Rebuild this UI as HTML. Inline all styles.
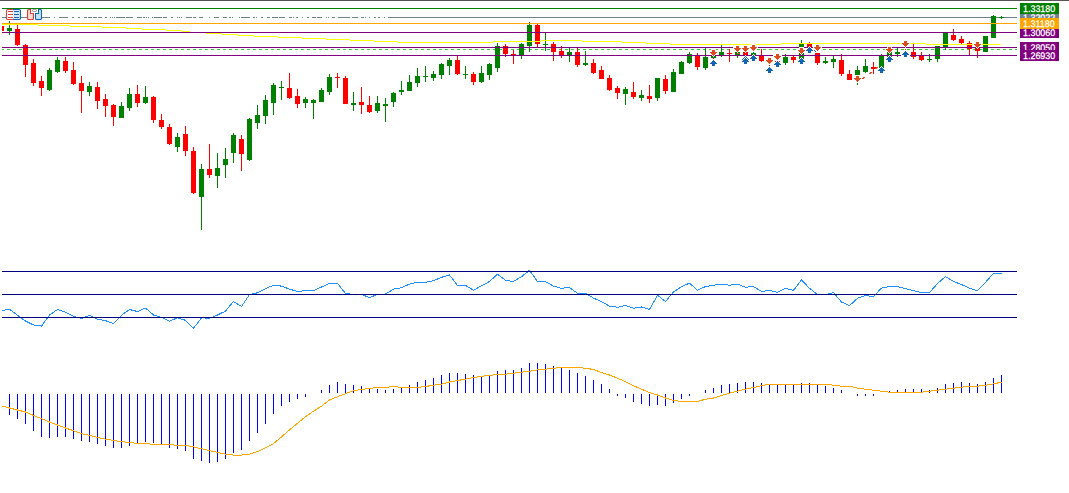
<!DOCTYPE html>
<html><head><meta charset="utf-8"><title>Chart</title>
<style>
html,body{margin:0;padding:0;background:#fff;}
body{width:1069px;height:493px;position:relative;overflow:hidden;font-family:"Liberation Sans",sans-serif;}
#topb{position:absolute;left:0;top:0;width:1069px;height:1px;background:#555;}
svg{position:absolute;left:0;top:0;}
.pl{position:absolute;left:1020px;width:39px;height:11px;line-height:13px;font-size:9.6px;color:#fff;padding-left:3px;box-sizing:border-box;white-space:nowrap;overflow:hidden;text-rendering:geometricPrecision;}
.pl span{display:inline-block;transform:scale(0.93,1);transform-origin:0 80%;-webkit-text-stroke:0.25px #fff;}
</style></head><body>
<svg width="1069" height="493" viewBox="0 0 1069 493" shape-rendering="crispEdges">
<rect x="388" y="17" width="629" height="1" fill="#708090"/>
<rect x="2" y="17" width="4" height="1" fill="#708090"/>
<rect x="21" y="17" width="6" height="1" fill="#708090"/>
<rect x="42" y="17" width="8" height="1" fill="#708090"/>
<rect x="54" y="17" width="1" height="1" fill="#708090"/>
<rect x="59" y="17" width="9" height="1" fill="#708090"/>
<rect x="72" y="17" width="2" height="1" fill="#708090"/>
<rect x="78" y="17" width="2" height="1" fill="#708090"/>
<rect x="84" y="17" width="3" height="1" fill="#708090"/>
<rect x="88" y="17" width="4" height="1" fill="#708090"/>
<rect x="93" y="17" width="4" height="1" fill="#708090"/>
<rect x="98" y="17" width="4" height="1" fill="#708090"/>
<rect x="105" y="17" width="2" height="1" fill="#708090"/>
<rect x="110" y="17" width="1" height="1" fill="#708090"/>
<rect x="112" y="17" width="1" height="1" fill="#708090"/>
<rect x="114" y="17" width="1" height="1" fill="#708090"/>
<rect x="116" y="17" width="2" height="1" fill="#708090"/>
<rect x="118" y="17" width="7" height="1" fill="#708090"/>
<rect x="126" y="17" width="7" height="1" fill="#708090"/>
<rect x="126" y="17" width="7" height="1" fill="#708090"/>
<rect x="137" y="17" width="5" height="1" fill="#708090"/>
<rect x="143" y="17" width="2" height="1" fill="#708090"/>
<rect x="146" y="17" width="1" height="1" fill="#708090"/>
<rect x="148" y="17" width="1" height="1" fill="#708090"/>
<rect x="152" y="17" width="1" height="1" fill="#708090"/>
<rect x="154" y="17" width="8" height="1" fill="#708090"/>
<rect x="163" y="17" width="4" height="1" fill="#708090"/>
<rect x="171" y="17" width="2" height="1" fill="#708090"/>
<rect x="177" y="17" width="1" height="1" fill="#708090"/>
<rect x="179" y="17" width="1" height="1" fill="#708090"/>
<rect x="181" y="17" width="1" height="1" fill="#708090"/>
<rect x="186" y="17" width="6" height="1" fill="#708090"/>
<rect x="193" y="17" width="3" height="1" fill="#708090"/>
<rect x="199" y="17" width="4" height="1" fill="#708090"/>
<rect x="209" y="17" width="1" height="1" fill="#708090"/>
<rect x="214" y="17" width="5" height="1" fill="#708090"/>
<rect x="223" y="17" width="4" height="1" fill="#708090"/>
<rect x="229" y="17" width="2" height="1" fill="#708090"/>
<rect x="232" y="17" width="1" height="1" fill="#708090"/>
<rect x="239" y="17" width="1" height="1" fill="#708090"/>
<rect x="241" y="17" width="9" height="1" fill="#708090"/>
<rect x="253" y="17" width="2" height="1" fill="#708090"/>
<rect x="256" y="17" width="1" height="1" fill="#708090"/>
<rect x="261" y="17" width="2" height="1" fill="#708090"/>
<rect x="267" y="17" width="1" height="1" fill="#708090"/>
<rect x="268" y="17" width="2" height="1" fill="#708090"/>
<rect x="272" y="17" width="6" height="1" fill="#708090"/>
<rect x="279" y="17" width="6" height="1" fill="#708090"/>
<rect x="289" y="17" width="3" height="1" fill="#708090"/>
<rect x="293" y="17" width="1" height="1" fill="#708090"/>
<rect x="297" y="17" width="1" height="1" fill="#708090"/>
<rect x="296" y="17" width="1" height="1" fill="#708090"/>
<rect x="302" y="17" width="1" height="1" fill="#708090"/>
<rect x="307" y="17" width="2" height="1" fill="#708090"/>
<rect x="312" y="17" width="4" height="1" fill="#708090"/>
<rect x="317" y="17" width="5" height="1" fill="#708090"/>
<rect x="326" y="17" width="1" height="1" fill="#708090"/>
<rect x="328" y="17" width="1" height="1" fill="#708090"/>
<rect x="332" y="17" width="3" height="1" fill="#708090"/>
<rect x="338" y="17" width="3" height="1" fill="#708090"/>
<rect x="341" y="17" width="9" height="1" fill="#708090"/>
<rect x="352" y="17" width="6" height="1" fill="#708090"/>
<rect x="361" y="17" width="3" height="1" fill="#708090"/>
<rect x="365" y="17" width="1" height="1" fill="#708090"/>
<rect x="369" y="17" width="1" height="1" fill="#708090"/>
<rect x="374" y="17" width="2" height="1" fill="#708090"/>
<rect x="378" y="17" width="2" height="1" fill="#708090"/>
<rect x="384" y="17" width="1" height="1" fill="#708090"/>
<rect x="2" y="49" width="2" height="1" fill="#32cd32"/>
<rect x="7" y="49" width="3" height="1" fill="#32cd32"/>
<rect x="13" y="49" width="3" height="1" fill="#32cd32"/>
<rect x="19" y="49" width="3" height="1" fill="#32cd32"/>
<rect x="25" y="49" width="3" height="1" fill="#32cd32"/>
<rect x="31" y="49" width="3" height="1" fill="#32cd32"/>
<rect x="37" y="49" width="3" height="1" fill="#32cd32"/>
<rect x="43" y="49" width="3" height="1" fill="#32cd32"/>
<rect x="49" y="49" width="3" height="1" fill="#32cd32"/>
<rect x="55" y="49" width="3" height="1" fill="#32cd32"/>
<rect x="61" y="49" width="3" height="1" fill="#32cd32"/>
<rect x="67" y="49" width="3" height="1" fill="#32cd32"/>
<rect x="73" y="49" width="3" height="1" fill="#32cd32"/>
<rect x="79" y="49" width="3" height="1" fill="#32cd32"/>
<rect x="85" y="49" width="3" height="1" fill="#32cd32"/>
<rect x="91" y="49" width="3" height="1" fill="#32cd32"/>
<rect x="97" y="49" width="3" height="1" fill="#32cd32"/>
<rect x="103" y="49" width="3" height="1" fill="#32cd32"/>
<rect x="109" y="49" width="3" height="1" fill="#32cd32"/>
<rect x="115" y="49" width="3" height="1" fill="#32cd32"/>
<rect x="121" y="49" width="3" height="1" fill="#32cd32"/>
<rect x="127" y="49" width="3" height="1" fill="#32cd32"/>
<rect x="133" y="49" width="3" height="1" fill="#32cd32"/>
<rect x="139" y="49" width="3" height="1" fill="#32cd32"/>
<rect x="145" y="49" width="3" height="1" fill="#32cd32"/>
<rect x="151" y="49" width="3" height="1" fill="#32cd32"/>
<rect x="157" y="49" width="3" height="1" fill="#32cd32"/>
<rect x="163" y="49" width="3" height="1" fill="#32cd32"/>
<rect x="169" y="49" width="3" height="1" fill="#32cd32"/>
<rect x="175" y="49" width="3" height="1" fill="#32cd32"/>
<rect x="181" y="49" width="3" height="1" fill="#32cd32"/>
<rect x="187" y="49" width="3" height="1" fill="#32cd32"/>
<rect x="193" y="49" width="3" height="1" fill="#32cd32"/>
<rect x="199" y="49" width="3" height="1" fill="#32cd32"/>
<rect x="205" y="49" width="3" height="1" fill="#32cd32"/>
<rect x="211" y="49" width="3" height="1" fill="#32cd32"/>
<rect x="217" y="49" width="3" height="1" fill="#32cd32"/>
<rect x="223" y="49" width="3" height="1" fill="#32cd32"/>
<rect x="229" y="49" width="3" height="1" fill="#32cd32"/>
<rect x="235" y="49" width="3" height="1" fill="#32cd32"/>
<rect x="241" y="49" width="3" height="1" fill="#32cd32"/>
<rect x="247" y="49" width="3" height="1" fill="#32cd32"/>
<rect x="253" y="49" width="3" height="1" fill="#32cd32"/>
<rect x="259" y="49" width="3" height="1" fill="#32cd32"/>
<rect x="265" y="49" width="3" height="1" fill="#32cd32"/>
<rect x="271" y="49" width="3" height="1" fill="#32cd32"/>
<rect x="277" y="49" width="3" height="1" fill="#32cd32"/>
<rect x="283" y="49" width="3" height="1" fill="#32cd32"/>
<rect x="289" y="49" width="3" height="1" fill="#32cd32"/>
<rect x="295" y="49" width="3" height="1" fill="#32cd32"/>
<rect x="301" y="49" width="3" height="1" fill="#32cd32"/>
<rect x="307" y="49" width="3" height="1" fill="#32cd32"/>
<rect x="313" y="49" width="3" height="1" fill="#32cd32"/>
<rect x="319" y="49" width="3" height="1" fill="#32cd32"/>
<rect x="325" y="49" width="3" height="1" fill="#32cd32"/>
<rect x="331" y="49" width="3" height="1" fill="#32cd32"/>
<rect x="337" y="49" width="3" height="1" fill="#32cd32"/>
<rect x="343" y="49" width="3" height="1" fill="#32cd32"/>
<rect x="349" y="49" width="3" height="1" fill="#32cd32"/>
<rect x="355" y="49" width="3" height="1" fill="#32cd32"/>
<rect x="361" y="49" width="3" height="1" fill="#32cd32"/>
<rect x="367" y="49" width="3" height="1" fill="#32cd32"/>
<rect x="373" y="49" width="3" height="1" fill="#32cd32"/>
<rect x="379" y="49" width="3" height="1" fill="#32cd32"/>
<rect x="385" y="49" width="3" height="1" fill="#32cd32"/>
<rect x="391" y="49" width="3" height="1" fill="#32cd32"/>
<rect x="397" y="49" width="3" height="1" fill="#32cd32"/>
<rect x="403" y="49" width="3" height="1" fill="#32cd32"/>
<rect x="409" y="49" width="3" height="1" fill="#32cd32"/>
<rect x="415" y="49" width="3" height="1" fill="#32cd32"/>
<rect x="421" y="49" width="3" height="1" fill="#32cd32"/>
<rect x="427" y="49" width="3" height="1" fill="#32cd32"/>
<rect x="433" y="49" width="3" height="1" fill="#32cd32"/>
<rect x="439" y="49" width="3" height="1" fill="#32cd32"/>
<rect x="445" y="49" width="3" height="1" fill="#32cd32"/>
<rect x="451" y="49" width="3" height="1" fill="#32cd32"/>
<rect x="457" y="49" width="3" height="1" fill="#32cd32"/>
<rect x="463" y="49" width="3" height="1" fill="#32cd32"/>
<rect x="469" y="49" width="3" height="1" fill="#32cd32"/>
<rect x="475" y="49" width="3" height="1" fill="#32cd32"/>
<rect x="481" y="49" width="3" height="1" fill="#32cd32"/>
<rect x="487" y="49" width="3" height="1" fill="#32cd32"/>
<rect x="493" y="49" width="3" height="1" fill="#32cd32"/>
<rect x="499" y="49" width="3" height="1" fill="#32cd32"/>
<rect x="505" y="49" width="3" height="1" fill="#32cd32"/>
<rect x="511" y="49" width="3" height="1" fill="#32cd32"/>
<rect x="517" y="49" width="3" height="1" fill="#32cd32"/>
<rect x="523" y="49" width="3" height="1" fill="#32cd32"/>
<rect x="529" y="49" width="3" height="1" fill="#32cd32"/>
<rect x="535" y="49" width="3" height="1" fill="#32cd32"/>
<rect x="541" y="49" width="3" height="1" fill="#32cd32"/>
<rect x="547" y="49" width="3" height="1" fill="#32cd32"/>
<rect x="553" y="49" width="3" height="1" fill="#32cd32"/>
<rect x="559" y="49" width="3" height="1" fill="#32cd32"/>
<rect x="565" y="49" width="3" height="1" fill="#32cd32"/>
<rect x="571" y="49" width="3" height="1" fill="#32cd32"/>
<rect x="577" y="49" width="3" height="1" fill="#32cd32"/>
<rect x="583" y="49" width="3" height="1" fill="#32cd32"/>
<rect x="589" y="49" width="3" height="1" fill="#32cd32"/>
<rect x="595" y="49" width="3" height="1" fill="#32cd32"/>
<rect x="601" y="49" width="3" height="1" fill="#32cd32"/>
<rect x="607" y="49" width="3" height="1" fill="#32cd32"/>
<rect x="613" y="49" width="3" height="1" fill="#32cd32"/>
<rect x="619" y="49" width="3" height="1" fill="#32cd32"/>
<rect x="625" y="49" width="3" height="1" fill="#32cd32"/>
<rect x="631" y="49" width="3" height="1" fill="#32cd32"/>
<rect x="637" y="49" width="3" height="1" fill="#32cd32"/>
<rect x="643" y="49" width="3" height="1" fill="#32cd32"/>
<rect x="649" y="49" width="3" height="1" fill="#32cd32"/>
<rect x="655" y="49" width="3" height="1" fill="#32cd32"/>
<rect x="661" y="49" width="3" height="1" fill="#32cd32"/>
<rect x="667" y="49" width="3" height="1" fill="#32cd32"/>
<rect x="673" y="49" width="3" height="1" fill="#32cd32"/>
<rect x="679" y="49" width="3" height="1" fill="#32cd32"/>
<rect x="685" y="49" width="3" height="1" fill="#32cd32"/>
<rect x="691" y="49" width="3" height="1" fill="#32cd32"/>
<rect x="697" y="49" width="3" height="1" fill="#32cd32"/>
<rect x="703" y="49" width="3" height="1" fill="#32cd32"/>
<rect x="709" y="49" width="3" height="1" fill="#32cd32"/>
<rect x="715" y="49" width="3" height="1" fill="#32cd32"/>
<rect x="721" y="49" width="3" height="1" fill="#32cd32"/>
<rect x="727" y="49" width="3" height="1" fill="#32cd32"/>
<rect x="733" y="49" width="3" height="1" fill="#32cd32"/>
<rect x="739" y="49" width="3" height="1" fill="#32cd32"/>
<rect x="745" y="49" width="3" height="1" fill="#32cd32"/>
<rect x="751" y="49" width="3" height="1" fill="#32cd32"/>
<rect x="757" y="49" width="3" height="1" fill="#32cd32"/>
<rect x="763" y="49" width="3" height="1" fill="#32cd32"/>
<rect x="769" y="49" width="3" height="1" fill="#32cd32"/>
<rect x="775" y="49" width="3" height="1" fill="#32cd32"/>
<rect x="781" y="49" width="3" height="1" fill="#32cd32"/>
<rect x="787" y="49" width="3" height="1" fill="#32cd32"/>
<rect x="793" y="49" width="3" height="1" fill="#32cd32"/>
<rect x="799" y="49" width="3" height="1" fill="#32cd32"/>
<rect x="805" y="49" width="3" height="1" fill="#32cd32"/>
<rect x="811" y="49" width="3" height="1" fill="#32cd32"/>
<rect x="817" y="49" width="3" height="1" fill="#32cd32"/>
<rect x="823" y="49" width="3" height="1" fill="#32cd32"/>
<rect x="829" y="49" width="3" height="1" fill="#32cd32"/>
<rect x="835" y="49" width="3" height="1" fill="#32cd32"/>
<rect x="841" y="49" width="3" height="1" fill="#32cd32"/>
<rect x="847" y="49" width="3" height="1" fill="#32cd32"/>
<rect x="853" y="49" width="3" height="1" fill="#32cd32"/>
<rect x="859" y="49" width="3" height="1" fill="#32cd32"/>
<rect x="865" y="49" width="3" height="1" fill="#32cd32"/>
<rect x="871" y="49" width="3" height="1" fill="#32cd32"/>
<rect x="877" y="49" width="3" height="1" fill="#32cd32"/>
<rect x="883" y="49" width="3" height="1" fill="#32cd32"/>
<rect x="889" y="49" width="3" height="1" fill="#32cd32"/>
<rect x="895" y="49" width="3" height="1" fill="#32cd32"/>
<rect x="901" y="49" width="3" height="1" fill="#32cd32"/>
<rect x="907" y="49" width="3" height="1" fill="#32cd32"/>
<rect x="913" y="49" width="3" height="1" fill="#32cd32"/>
<rect x="919" y="49" width="3" height="1" fill="#32cd32"/>
<rect x="925" y="49" width="3" height="1" fill="#32cd32"/>
<rect x="931" y="49" width="3" height="1" fill="#32cd32"/>
<rect x="937" y="49" width="3" height="1" fill="#32cd32"/>
<rect x="943" y="49" width="3" height="1" fill="#32cd32"/>
<rect x="949" y="49" width="3" height="1" fill="#32cd32"/>
<rect x="955" y="49" width="3" height="1" fill="#32cd32"/>
<rect x="961" y="49" width="3" height="1" fill="#32cd32"/>
<rect x="967" y="49" width="3" height="1" fill="#32cd32"/>
<rect x="973" y="49" width="3" height="1" fill="#32cd32"/>
<rect x="979" y="49" width="3" height="1" fill="#32cd32"/>
<rect x="985" y="49" width="3" height="1" fill="#32cd32"/>
<rect x="991" y="49" width="3" height="1" fill="#32cd32"/>
<rect x="997" y="49" width="3" height="1" fill="#32cd32"/>
<rect x="1003" y="49" width="3" height="1" fill="#32cd32"/>
<rect x="1009" y="49" width="3" height="1" fill="#32cd32"/>
<rect x="1015" y="49" width="2" height="1" fill="#32cd32"/>
<rect x="2" y="26" width="2" height="5" fill="#ff0000"/>
<rect x="9" y="21" width="1" height="14" fill="#008000"/>
<rect x="7" y="28" width="5" height="3" fill="#008000"/>
<rect x="17" y="25" width="1" height="21" fill="#ff0000"/>
<rect x="15" y="29" width="5" height="16" fill="#ff0000"/>
<rect x="25" y="44" width="1" height="33" fill="#ff0000"/>
<rect x="23" y="45" width="5" height="20" fill="#ff0000"/>
<rect x="33" y="59" width="1" height="27" fill="#ff0000"/>
<rect x="31" y="63" width="5" height="20" fill="#ff0000"/>
<rect x="41" y="76" width="1" height="20" fill="#ff0000"/>
<rect x="39" y="81" width="5" height="7" fill="#ff0000"/>
<rect x="49" y="68" width="1" height="23" fill="#008000"/>
<rect x="47" y="70" width="5" height="20" fill="#008000"/>
<rect x="57" y="57" width="1" height="16" fill="#008000"/>
<rect x="55" y="60" width="5" height="12" fill="#008000"/>
<rect x="65" y="57" width="1" height="16" fill="#ff0000"/>
<rect x="63" y="61" width="5" height="10" fill="#ff0000"/>
<rect x="73" y="62" width="1" height="23" fill="#ff0000"/>
<rect x="71" y="70" width="5" height="14" fill="#ff0000"/>
<rect x="81" y="76" width="1" height="37" fill="#ff0000"/>
<rect x="79" y="83" width="5" height="8" fill="#ff0000"/>
<rect x="89" y="82" width="1" height="14" fill="#008000"/>
<rect x="87" y="86" width="5" height="6" fill="#008000"/>
<rect x="97" y="82" width="1" height="27" fill="#ff0000"/>
<rect x="95" y="87" width="5" height="14" fill="#ff0000"/>
<rect x="105" y="94" width="1" height="23" fill="#ff0000"/>
<rect x="103" y="99" width="5" height="7" fill="#ff0000"/>
<rect x="113" y="104" width="1" height="22" fill="#ff0000"/>
<rect x="111" y="105" width="5" height="12" fill="#ff0000"/>
<rect x="121" y="102" width="1" height="16" fill="#008000"/>
<rect x="119" y="106" width="5" height="12" fill="#008000"/>
<rect x="129" y="88" width="1" height="23" fill="#008000"/>
<rect x="127" y="94" width="5" height="14" fill="#008000"/>
<rect x="137" y="85" width="1" height="22" fill="#ff0000"/>
<rect x="135" y="94" width="5" height="9" fill="#ff0000"/>
<rect x="145" y="86" width="1" height="18" fill="#008000"/>
<rect x="143" y="97" width="5" height="6" fill="#008000"/>
<rect x="153" y="96" width="1" height="27" fill="#ff0000"/>
<rect x="151" y="97" width="5" height="23" fill="#ff0000"/>
<rect x="161" y="114" width="1" height="15" fill="#ff0000"/>
<rect x="159" y="120" width="5" height="7" fill="#ff0000"/>
<rect x="169" y="124" width="1" height="21" fill="#ff0000"/>
<rect x="167" y="127" width="5" height="17" fill="#ff0000"/>
<rect x="177" y="133" width="1" height="19" fill="#008000"/>
<rect x="175" y="137" width="5" height="10" fill="#008000"/>
<rect x="185" y="126" width="1" height="30" fill="#ff0000"/>
<rect x="183" y="134" width="5" height="17" fill="#ff0000"/>
<rect x="193" y="147" width="1" height="47" fill="#ff0000"/>
<rect x="191" y="151" width="5" height="42" fill="#ff0000"/>
<rect x="201" y="164" width="1" height="66" fill="#008000"/>
<rect x="199" y="169" width="5" height="28" fill="#008000"/>
<rect x="209" y="144" width="1" height="34" fill="#ff0000"/>
<rect x="207" y="169" width="5" height="6" fill="#ff0000"/>
<rect x="217" y="153" width="1" height="35" fill="#008000"/>
<rect x="215" y="168" width="5" height="8" fill="#008000"/>
<rect x="225" y="148" width="1" height="30" fill="#008000"/>
<rect x="223" y="159" width="5" height="6" fill="#008000"/>
<rect x="233" y="133" width="1" height="30" fill="#008000"/>
<rect x="231" y="135" width="5" height="18" fill="#008000"/>
<rect x="241" y="135" width="1" height="36" fill="#ff0000"/>
<rect x="239" y="139" width="5" height="15" fill="#ff0000"/>
<rect x="249" y="118" width="1" height="43" fill="#008000"/>
<rect x="247" y="119" width="5" height="41" fill="#008000"/>
<rect x="257" y="105" width="1" height="24" fill="#008000"/>
<rect x="255" y="115" width="5" height="8" fill="#008000"/>
<rect x="265" y="95" width="1" height="29" fill="#008000"/>
<rect x="263" y="100" width="5" height="16" fill="#008000"/>
<rect x="273" y="83" width="1" height="32" fill="#008000"/>
<rect x="271" y="85" width="5" height="18" fill="#008000"/>
<rect x="281" y="81" width="1" height="19" fill="#008000"/>
<rect x="279" y="87" width="5" height="1" fill="#008000"/>
<rect x="289" y="73" width="1" height="26" fill="#ff0000"/>
<rect x="287" y="88" width="5" height="10" fill="#ff0000"/>
<rect x="297" y="89" width="1" height="19" fill="#ff0000"/>
<rect x="295" y="96" width="5" height="8" fill="#ff0000"/>
<rect x="305" y="97" width="1" height="11" fill="#008000"/>
<rect x="303" y="99" width="5" height="4" fill="#008000"/>
<rect x="313" y="99" width="1" height="20" fill="#008000"/>
<rect x="311" y="100" width="5" height="3" fill="#008000"/>
<rect x="321" y="88" width="1" height="14" fill="#008000"/>
<rect x="319" y="90" width="5" height="12" fill="#008000"/>
<rect x="329" y="74" width="1" height="21" fill="#008000"/>
<rect x="327" y="77" width="5" height="15" fill="#008000"/>
<rect x="337" y="73" width="1" height="15" fill="#ff0000"/>
<rect x="335" y="77" width="5" height="1" fill="#ff0000"/>
<rect x="345" y="76" width="1" height="28" fill="#ff0000"/>
<rect x="343" y="78" width="5" height="26" fill="#ff0000"/>
<rect x="353" y="92" width="1" height="19" fill="#008000"/>
<rect x="351" y="103" width="5" height="2" fill="#008000"/>
<rect x="361" y="87" width="1" height="27" fill="#ff0000"/>
<rect x="359" y="102" width="5" height="3" fill="#ff0000"/>
<rect x="369" y="96" width="1" height="17" fill="#ff0000"/>
<rect x="367" y="105" width="5" height="7" fill="#ff0000"/>
<rect x="377" y="96" width="1" height="17" fill="#008000"/>
<rect x="375" y="103" width="5" height="8" fill="#008000"/>
<rect x="385" y="98" width="1" height="24" fill="#008000"/>
<rect x="383" y="104" width="5" height="2" fill="#008000"/>
<rect x="393" y="92" width="1" height="15" fill="#008000"/>
<rect x="391" y="93" width="5" height="9" fill="#008000"/>
<rect x="401" y="81" width="1" height="14" fill="#008000"/>
<rect x="399" y="90" width="5" height="2" fill="#008000"/>
<rect x="409" y="75" width="1" height="16" fill="#008000"/>
<rect x="407" y="82" width="5" height="9" fill="#008000"/>
<rect x="417" y="68" width="1" height="19" fill="#008000"/>
<rect x="415" y="76" width="5" height="7" fill="#008000"/>
<rect x="425" y="66" width="1" height="16" fill="#008000"/>
<rect x="423" y="76" width="5" height="1" fill="#008000"/>
<rect x="433" y="71" width="1" height="10" fill="#008000"/>
<rect x="431" y="74" width="5" height="4" fill="#008000"/>
<rect x="441" y="63" width="1" height="16" fill="#008000"/>
<rect x="439" y="64" width="5" height="11" fill="#008000"/>
<rect x="449" y="58" width="1" height="17" fill="#008000"/>
<rect x="447" y="60" width="5" height="6" fill="#008000"/>
<rect x="457" y="56" width="1" height="19" fill="#ff0000"/>
<rect x="455" y="60" width="5" height="14" fill="#ff0000"/>
<rect x="465" y="66" width="1" height="13" fill="#008000"/>
<rect x="463" y="74" width="5" height="1" fill="#008000"/>
<rect x="473" y="72" width="1" height="13" fill="#ff0000"/>
<rect x="471" y="74" width="5" height="8" fill="#ff0000"/>
<rect x="481" y="66" width="1" height="17" fill="#008000"/>
<rect x="479" y="73" width="5" height="9" fill="#008000"/>
<rect x="489" y="63" width="1" height="17" fill="#008000"/>
<rect x="487" y="64" width="5" height="11" fill="#008000"/>
<rect x="497" y="43" width="1" height="29" fill="#008000"/>
<rect x="495" y="46" width="5" height="22" fill="#008000"/>
<rect x="505" y="44" width="1" height="13" fill="#ff0000"/>
<rect x="503" y="46" width="5" height="8" fill="#ff0000"/>
<rect x="513" y="50" width="1" height="14" fill="#ff0000"/>
<rect x="511" y="54" width="5" height="2" fill="#ff0000"/>
<rect x="521" y="43" width="1" height="16" fill="#008000"/>
<rect x="519" y="44" width="5" height="12" fill="#008000"/>
<rect x="529" y="22" width="1" height="30" fill="#008000"/>
<rect x="527" y="25" width="5" height="21" fill="#008000"/>
<rect x="537" y="24" width="1" height="24" fill="#ff0000"/>
<rect x="535" y="25" width="5" height="19" fill="#ff0000"/>
<rect x="545" y="33" width="1" height="18" fill="#008000"/>
<rect x="543" y="44" width="5" height="1" fill="#008000"/>
<rect x="553" y="42" width="1" height="19" fill="#ff0000"/>
<rect x="551" y="44" width="5" height="8" fill="#ff0000"/>
<rect x="561" y="46" width="1" height="12" fill="#ff0000"/>
<rect x="559" y="51" width="5" height="5" fill="#ff0000"/>
<rect x="569" y="48" width="1" height="14" fill="#008000"/>
<rect x="567" y="52" width="5" height="4" fill="#008000"/>
<rect x="577" y="48" width="1" height="19" fill="#ff0000"/>
<rect x="575" y="52" width="5" height="13" fill="#ff0000"/>
<rect x="585" y="51" width="1" height="15" fill="#008000"/>
<rect x="583" y="63" width="5" height="2" fill="#008000"/>
<rect x="593" y="59" width="1" height="15" fill="#ff0000"/>
<rect x="591" y="63" width="5" height="10" fill="#ff0000"/>
<rect x="601" y="66" width="1" height="13" fill="#ff0000"/>
<rect x="599" y="70" width="5" height="9" fill="#ff0000"/>
<rect x="609" y="75" width="1" height="16" fill="#ff0000"/>
<rect x="607" y="78" width="5" height="12" fill="#ff0000"/>
<rect x="617" y="86" width="1" height="13" fill="#ff0000"/>
<rect x="615" y="88" width="5" height="5" fill="#ff0000"/>
<rect x="625" y="87" width="1" height="18" fill="#008000"/>
<rect x="623" y="89" width="5" height="5" fill="#008000"/>
<rect x="633" y="82" width="1" height="17" fill="#ff0000"/>
<rect x="631" y="92" width="5" height="5" fill="#ff0000"/>
<rect x="641" y="90" width="1" height="11" fill="#008000"/>
<rect x="639" y="95" width="5" height="3" fill="#008000"/>
<rect x="649" y="85" width="1" height="18" fill="#ff0000"/>
<rect x="647" y="96" width="5" height="3" fill="#ff0000"/>
<rect x="657" y="78" width="1" height="23" fill="#008000"/>
<rect x="655" y="78" width="5" height="20" fill="#008000"/>
<rect x="665" y="75" width="1" height="19" fill="#ff0000"/>
<rect x="663" y="79" width="5" height="12" fill="#ff0000"/>
<rect x="673" y="69" width="1" height="23" fill="#008000"/>
<rect x="671" y="72" width="5" height="20" fill="#008000"/>
<rect x="681" y="61" width="1" height="13" fill="#008000"/>
<rect x="679" y="62" width="5" height="12" fill="#008000"/>
<rect x="689" y="52" width="1" height="12" fill="#008000"/>
<rect x="687" y="54" width="5" height="9" fill="#008000"/>
<rect x="697" y="53" width="1" height="17" fill="#ff0000"/>
<rect x="695" y="56" width="5" height="11" fill="#ff0000"/>
<rect x="705" y="48" width="1" height="22" fill="#008000"/>
<rect x="703" y="57" width="5" height="11" fill="#008000"/>
<rect x="713" y="56" width="1" height="2" fill="#008000"/>
<rect x="711" y="56" width="5" height="2" fill="#008000"/>
<rect x="721" y="45" width="1" height="12" fill="#008000"/>
<rect x="719" y="52" width="5" height="3" fill="#008000"/>
<rect x="729" y="49" width="1" height="13" fill="#ff0000"/>
<rect x="727" y="53" width="5" height="1" fill="#ff0000"/>
<rect x="737" y="50" width="1" height="8" fill="#008000"/>
<rect x="735" y="52" width="5" height="3" fill="#008000"/>
<rect x="745" y="52" width="1" height="4" fill="#ff0000"/>
<rect x="743" y="52" width="5" height="4" fill="#ff0000"/>
<rect x="753" y="53" width="1" height="2" fill="#008000"/>
<rect x="751" y="53" width="5" height="2" fill="#008000"/>
<rect x="761" y="49" width="1" height="13" fill="#ff0000"/>
<rect x="759" y="56" width="5" height="5" fill="#ff0000"/>
<rect x="769" y="60" width="1" height="6" fill="#ff0000"/>
<rect x="767" y="60" width="5" height="3" fill="#ff0000"/>
<rect x="777" y="61" width="1" height="1" fill="#ff0000"/>
<rect x="775" y="61" width="5" height="1" fill="#ff0000"/>
<rect x="785" y="54" width="1" height="11" fill="#008000"/>
<rect x="783" y="57" width="5" height="6" fill="#008000"/>
<rect x="793" y="56" width="1" height="7" fill="#ff0000"/>
<rect x="791" y="57" width="5" height="3" fill="#ff0000"/>
<rect x="801" y="40" width="1" height="19" fill="#008000"/>
<rect x="799" y="44" width="5" height="15" fill="#008000"/>
<rect x="809" y="42" width="1" height="9" fill="#ff0000"/>
<rect x="807" y="44" width="5" height="7" fill="#ff0000"/>
<rect x="817" y="53" width="1" height="12" fill="#ff0000"/>
<rect x="815" y="53" width="5" height="10" fill="#ff0000"/>
<rect x="825" y="57" width="1" height="7" fill="#008000"/>
<rect x="823" y="61" width="5" height="2" fill="#008000"/>
<rect x="833" y="56" width="1" height="12" fill="#008000"/>
<rect x="831" y="59" width="5" height="3" fill="#008000"/>
<rect x="841" y="54" width="1" height="22" fill="#ff0000"/>
<rect x="839" y="60" width="5" height="14" fill="#ff0000"/>
<rect x="849" y="70" width="1" height="10" fill="#ff0000"/>
<rect x="847" y="74" width="5" height="6" fill="#ff0000"/>
<rect x="857" y="66" width="1" height="19" fill="#008000"/>
<rect x="855" y="70" width="5" height="5" fill="#008000"/>
<rect x="865" y="59" width="1" height="14" fill="#008000"/>
<rect x="863" y="66" width="5" height="6" fill="#008000"/>
<rect x="873" y="62" width="1" height="12" fill="#ff0000"/>
<rect x="871" y="67" width="5" height="2" fill="#ff0000"/>
<rect x="881" y="54" width="1" height="14" fill="#008000"/>
<rect x="879" y="56" width="5" height="12" fill="#008000"/>
<rect x="889" y="52" width="1" height="5" fill="#008000"/>
<rect x="887" y="52" width="5" height="5" fill="#008000"/>
<rect x="897" y="48" width="1" height="9" fill="#008000"/>
<rect x="895" y="52" width="5" height="2" fill="#008000"/>
<rect x="913" y="44" width="1" height="15" fill="#ff0000"/>
<rect x="911" y="52" width="5" height="5" fill="#ff0000"/>
<rect x="921" y="52" width="1" height="9" fill="#ff0000"/>
<rect x="919" y="56" width="5" height="4" fill="#ff0000"/>
<rect x="929" y="54" width="1" height="8" fill="#008000"/>
<rect x="927" y="59" width="5" height="1" fill="#008000"/>
<rect x="937" y="46" width="1" height="16" fill="#008000"/>
<rect x="935" y="46" width="5" height="13" fill="#008000"/>
<rect x="945" y="33" width="1" height="17" fill="#008000"/>
<rect x="943" y="33" width="5" height="14" fill="#008000"/>
<rect x="953" y="29" width="1" height="12" fill="#ff0000"/>
<rect x="951" y="35" width="5" height="5" fill="#ff0000"/>
<rect x="961" y="36" width="1" height="8" fill="#ff0000"/>
<rect x="959" y="39" width="5" height="4" fill="#ff0000"/>
<rect x="969" y="41" width="1" height="14" fill="#ff0000"/>
<rect x="967" y="43" width="5" height="6" fill="#ff0000"/>
<rect x="977" y="48" width="1" height="10" fill="#ff0000"/>
<rect x="975" y="48" width="5" height="3" fill="#ff0000"/>
<rect x="985" y="36" width="1" height="16" fill="#008000"/>
<rect x="983" y="36" width="5" height="16" fill="#008000"/>
<rect x="993" y="15" width="1" height="23" fill="#008000"/>
<rect x="991" y="16" width="5" height="22" fill="#008000"/>
<rect x="713" y="58" width="1" height="1" fill="#ff0000"/>
<rect x="737" y="53" width="3" height="1" fill="#dc4a1e"/>
<rect x="905" y="49" width="1" height="1" fill="#ff0000"/>
<rect x="2" y="24" width="36" height="1" fill="#ffff00"/>
<rect x="38" y="25" width="32" height="1" fill="#ffff00"/>
<rect x="70" y="26" width="32" height="1" fill="#ffff00"/>
<rect x="102" y="27" width="24" height="1" fill="#ffff00"/>
<rect x="126" y="28" width="16" height="1" fill="#ffff00"/>
<rect x="142" y="29" width="24" height="1" fill="#ffff00"/>
<rect x="166" y="30" width="16" height="1" fill="#ffff00"/>
<rect x="182" y="31" width="8" height="1" fill="#ffff00"/>
<rect x="190" y="32" width="16" height="1" fill="#ffff00"/>
<rect x="206" y="33" width="16" height="1" fill="#ffff00"/>
<rect x="222" y="34" width="16" height="1" fill="#ffff00"/>
<rect x="238" y="35" width="16" height="1" fill="#ffff00"/>
<rect x="254" y="36" width="24" height="1" fill="#ffff00"/>
<rect x="278" y="37" width="24" height="1" fill="#ffff00"/>
<rect x="302" y="38" width="24" height="1" fill="#ffff00"/>
<rect x="326" y="39" width="24" height="1" fill="#ffff00"/>
<rect x="350" y="40" width="24" height="1" fill="#ffff00"/>
<rect x="374" y="41" width="24" height="1" fill="#ffff00"/>
<rect x="398" y="42" width="95" height="1" fill="#ffff00"/>
<rect x="493" y="41" width="48" height="1" fill="#ffff00"/>
<rect x="541" y="40" width="41" height="1" fill="#ffff00"/>
<rect x="582" y="41" width="40" height="1" fill="#ffff00"/>
<rect x="622" y="42" width="24" height="1" fill="#ffff00"/>
<rect x="646" y="43" width="24" height="1" fill="#ffff00"/>
<rect x="670" y="44" width="111" height="1" fill="#ffff00"/>
<rect x="781" y="43" width="145" height="1" fill="#ffff00"/>
<rect x="926" y="44" width="75" height="1" fill="#ffff00"/>
<rect x="2" y="8" width="1015" height="1" fill="#008000"/>
<rect x="2" y="23" width="1015" height="1" fill="#ffa500"/>
<rect x="2" y="32" width="1015" height="1" fill="#800080"/>
<rect x="2" y="47" width="1015" height="1" fill="#800080"/>
<rect x="2" y="55" width="1015" height="1" fill="#800080"/>
<rect x="999" y="17" width="5" height="1" fill="#008000"/>
<rect x="1001" y="16" width="1" height="3" fill="#008000"/>
<rect x="711" y="49" width="5" height="1" fill="#ffffff"/>
<rect x="711" y="50" width="5" height="1" fill="#ffffff"/>
<rect x="709" y="51" width="9" height="1" fill="#ffffff"/>
<rect x="709" y="52" width="9" height="1" fill="#ffffff"/>
<rect x="709" y="53" width="9" height="1" fill="#ffffff"/>
<rect x="711" y="54" width="5" height="1" fill="#ffffff"/>
<rect x="712" y="55" width="3" height="1" fill="#ffffff"/>
<rect x="713" y="56" width="1" height="1" fill="#ffffff"/>
<rect x="712" y="50" width="3" height="1" fill="#dc4a1e"/>
<rect x="712" y="51" width="3" height="1" fill="#dc4a1e"/>
<rect x="710" y="52" width="7" height="1" fill="#dc4a1e"/>
<rect x="711" y="53" width="5" height="1" fill="#dc4a1e"/>
<rect x="712" y="54" width="3" height="1" fill="#dc4a1e"/>
<rect x="713" y="55" width="1" height="1" fill="#dc4a1e"/>
<rect x="735" y="45" width="5" height="1" fill="#ffffff"/>
<rect x="735" y="46" width="5" height="1" fill="#ffffff"/>
<rect x="733" y="47" width="9" height="1" fill="#ffffff"/>
<rect x="733" y="48" width="9" height="1" fill="#ffffff"/>
<rect x="733" y="49" width="9" height="1" fill="#ffffff"/>
<rect x="735" y="50" width="5" height="1" fill="#ffffff"/>
<rect x="736" y="51" width="3" height="1" fill="#ffffff"/>
<rect x="737" y="52" width="1" height="1" fill="#ffffff"/>
<rect x="736" y="46" width="3" height="1" fill="#dc4a1e"/>
<rect x="736" y="47" width="3" height="1" fill="#dc4a1e"/>
<rect x="734" y="48" width="7" height="1" fill="#dc4a1e"/>
<rect x="735" y="49" width="5" height="1" fill="#dc4a1e"/>
<rect x="736" y="50" width="3" height="1" fill="#dc4a1e"/>
<rect x="737" y="51" width="1" height="1" fill="#dc4a1e"/>
<rect x="743" y="45" width="5" height="1" fill="#ffffff"/>
<rect x="743" y="46" width="5" height="1" fill="#ffffff"/>
<rect x="741" y="47" width="9" height="1" fill="#ffffff"/>
<rect x="741" y="48" width="9" height="1" fill="#ffffff"/>
<rect x="741" y="49" width="9" height="1" fill="#ffffff"/>
<rect x="743" y="50" width="5" height="1" fill="#ffffff"/>
<rect x="744" y="51" width="3" height="1" fill="#ffffff"/>
<rect x="745" y="52" width="1" height="1" fill="#ffffff"/>
<rect x="744" y="46" width="3" height="1" fill="#dc4a1e"/>
<rect x="744" y="47" width="3" height="1" fill="#dc4a1e"/>
<rect x="742" y="48" width="7" height="1" fill="#dc4a1e"/>
<rect x="743" y="49" width="5" height="1" fill="#dc4a1e"/>
<rect x="744" y="50" width="3" height="1" fill="#dc4a1e"/>
<rect x="745" y="51" width="1" height="1" fill="#dc4a1e"/>
<rect x="751" y="44" width="5" height="1" fill="#ffffff"/>
<rect x="751" y="45" width="5" height="1" fill="#ffffff"/>
<rect x="749" y="46" width="9" height="1" fill="#ffffff"/>
<rect x="749" y="47" width="9" height="1" fill="#ffffff"/>
<rect x="749" y="48" width="9" height="1" fill="#ffffff"/>
<rect x="751" y="49" width="5" height="1" fill="#ffffff"/>
<rect x="752" y="50" width="3" height="1" fill="#ffffff"/>
<rect x="753" y="51" width="1" height="1" fill="#ffffff"/>
<rect x="752" y="45" width="3" height="1" fill="#dc4a1e"/>
<rect x="752" y="46" width="3" height="1" fill="#dc4a1e"/>
<rect x="750" y="47" width="7" height="1" fill="#dc4a1e"/>
<rect x="751" y="48" width="5" height="1" fill="#dc4a1e"/>
<rect x="752" y="49" width="3" height="1" fill="#dc4a1e"/>
<rect x="753" y="50" width="1" height="1" fill="#dc4a1e"/>
<rect x="767" y="57" width="5" height="1" fill="#ffffff"/>
<rect x="767" y="58" width="5" height="1" fill="#ffffff"/>
<rect x="765" y="59" width="9" height="1" fill="#ffffff"/>
<rect x="765" y="60" width="9" height="1" fill="#ffffff"/>
<rect x="765" y="61" width="9" height="1" fill="#ffffff"/>
<rect x="767" y="62" width="5" height="1" fill="#ffffff"/>
<rect x="768" y="63" width="3" height="1" fill="#ffffff"/>
<rect x="769" y="64" width="1" height="1" fill="#ffffff"/>
<rect x="768" y="58" width="3" height="1" fill="#dc4a1e"/>
<rect x="768" y="59" width="3" height="1" fill="#dc4a1e"/>
<rect x="766" y="60" width="7" height="1" fill="#dc4a1e"/>
<rect x="767" y="61" width="5" height="1" fill="#dc4a1e"/>
<rect x="768" y="62" width="3" height="1" fill="#dc4a1e"/>
<rect x="769" y="63" width="1" height="1" fill="#dc4a1e"/>
<rect x="775" y="53" width="5" height="1" fill="#ffffff"/>
<rect x="775" y="54" width="5" height="1" fill="#ffffff"/>
<rect x="773" y="55" width="9" height="1" fill="#ffffff"/>
<rect x="773" y="56" width="9" height="1" fill="#ffffff"/>
<rect x="773" y="57" width="9" height="1" fill="#ffffff"/>
<rect x="775" y="58" width="5" height="1" fill="#ffffff"/>
<rect x="776" y="59" width="3" height="1" fill="#ffffff"/>
<rect x="777" y="60" width="1" height="1" fill="#ffffff"/>
<rect x="776" y="54" width="3" height="1" fill="#dc4a1e"/>
<rect x="776" y="55" width="3" height="1" fill="#dc4a1e"/>
<rect x="774" y="56" width="7" height="1" fill="#dc4a1e"/>
<rect x="775" y="57" width="5" height="1" fill="#dc4a1e"/>
<rect x="776" y="58" width="3" height="1" fill="#dc4a1e"/>
<rect x="777" y="59" width="1" height="1" fill="#dc4a1e"/>
<rect x="799" y="47" width="5" height="1" fill="#ffffff"/>
<rect x="799" y="48" width="5" height="1" fill="#ffffff"/>
<rect x="797" y="49" width="9" height="1" fill="#ffffff"/>
<rect x="797" y="50" width="9" height="1" fill="#ffffff"/>
<rect x="797" y="51" width="9" height="1" fill="#ffffff"/>
<rect x="799" y="52" width="5" height="1" fill="#ffffff"/>
<rect x="800" y="53" width="3" height="1" fill="#ffffff"/>
<rect x="801" y="54" width="1" height="1" fill="#ffffff"/>
<rect x="800" y="48" width="3" height="1" fill="#dc4a1e"/>
<rect x="800" y="49" width="3" height="1" fill="#dc4a1e"/>
<rect x="798" y="50" width="7" height="1" fill="#dc4a1e"/>
<rect x="799" y="51" width="5" height="1" fill="#dc4a1e"/>
<rect x="800" y="52" width="3" height="1" fill="#dc4a1e"/>
<rect x="801" y="53" width="1" height="1" fill="#dc4a1e"/>
<rect x="815" y="44" width="5" height="1" fill="#ffffff"/>
<rect x="815" y="45" width="5" height="1" fill="#ffffff"/>
<rect x="813" y="46" width="9" height="1" fill="#ffffff"/>
<rect x="813" y="47" width="9" height="1" fill="#ffffff"/>
<rect x="813" y="48" width="9" height="1" fill="#ffffff"/>
<rect x="815" y="49" width="5" height="1" fill="#ffffff"/>
<rect x="816" y="50" width="3" height="1" fill="#ffffff"/>
<rect x="817" y="51" width="1" height="1" fill="#ffffff"/>
<rect x="816" y="45" width="3" height="1" fill="#dc4a1e"/>
<rect x="816" y="46" width="3" height="1" fill="#dc4a1e"/>
<rect x="814" y="47" width="7" height="1" fill="#dc4a1e"/>
<rect x="815" y="48" width="5" height="1" fill="#dc4a1e"/>
<rect x="816" y="49" width="3" height="1" fill="#dc4a1e"/>
<rect x="817" y="50" width="1" height="1" fill="#dc4a1e"/>
<rect x="855" y="75" width="5" height="1" fill="#ffffff"/>
<rect x="855" y="76" width="5" height="1" fill="#ffffff"/>
<rect x="853" y="77" width="9" height="1" fill="#ffffff"/>
<rect x="853" y="78" width="9" height="1" fill="#ffffff"/>
<rect x="853" y="79" width="9" height="1" fill="#ffffff"/>
<rect x="855" y="80" width="5" height="1" fill="#ffffff"/>
<rect x="856" y="81" width="3" height="1" fill="#ffffff"/>
<rect x="857" y="82" width="1" height="1" fill="#ffffff"/>
<rect x="856" y="76" width="3" height="1" fill="#dc4a1e"/>
<rect x="856" y="77" width="3" height="1" fill="#dc4a1e"/>
<rect x="854" y="78" width="7" height="1" fill="#dc4a1e"/>
<rect x="855" y="79" width="5" height="1" fill="#dc4a1e"/>
<rect x="856" y="80" width="3" height="1" fill="#dc4a1e"/>
<rect x="857" y="81" width="1" height="1" fill="#dc4a1e"/>
<rect x="887" y="46" width="5" height="1" fill="#ffffff"/>
<rect x="887" y="47" width="5" height="1" fill="#ffffff"/>
<rect x="885" y="48" width="9" height="1" fill="#ffffff"/>
<rect x="885" y="49" width="9" height="1" fill="#ffffff"/>
<rect x="885" y="50" width="9" height="1" fill="#ffffff"/>
<rect x="887" y="51" width="5" height="1" fill="#ffffff"/>
<rect x="888" y="52" width="3" height="1" fill="#ffffff"/>
<rect x="889" y="53" width="1" height="1" fill="#ffffff"/>
<rect x="888" y="47" width="3" height="1" fill="#dc4a1e"/>
<rect x="888" y="48" width="3" height="1" fill="#dc4a1e"/>
<rect x="886" y="49" width="7" height="1" fill="#dc4a1e"/>
<rect x="887" y="50" width="5" height="1" fill="#dc4a1e"/>
<rect x="888" y="51" width="3" height="1" fill="#dc4a1e"/>
<rect x="889" y="52" width="1" height="1" fill="#dc4a1e"/>
<rect x="903" y="40" width="5" height="1" fill="#ffffff"/>
<rect x="903" y="41" width="5" height="1" fill="#ffffff"/>
<rect x="901" y="42" width="9" height="1" fill="#ffffff"/>
<rect x="901" y="43" width="9" height="1" fill="#ffffff"/>
<rect x="901" y="44" width="9" height="1" fill="#ffffff"/>
<rect x="903" y="45" width="5" height="1" fill="#ffffff"/>
<rect x="904" y="46" width="3" height="1" fill="#ffffff"/>
<rect x="905" y="47" width="1" height="1" fill="#ffffff"/>
<rect x="904" y="41" width="3" height="1" fill="#dc4a1e"/>
<rect x="904" y="42" width="3" height="1" fill="#dc4a1e"/>
<rect x="902" y="43" width="7" height="1" fill="#dc4a1e"/>
<rect x="903" y="44" width="5" height="1" fill="#dc4a1e"/>
<rect x="904" y="45" width="3" height="1" fill="#dc4a1e"/>
<rect x="905" y="46" width="1" height="1" fill="#dc4a1e"/>
<rect x="975" y="41" width="5" height="1" fill="#ffffff"/>
<rect x="975" y="42" width="5" height="1" fill="#ffffff"/>
<rect x="973" y="43" width="9" height="1" fill="#ffffff"/>
<rect x="973" y="44" width="9" height="1" fill="#ffffff"/>
<rect x="973" y="45" width="9" height="1" fill="#ffffff"/>
<rect x="975" y="46" width="5" height="1" fill="#ffffff"/>
<rect x="976" y="47" width="3" height="1" fill="#ffffff"/>
<rect x="977" y="48" width="1" height="1" fill="#ffffff"/>
<rect x="976" y="42" width="3" height="1" fill="#dc4a1e"/>
<rect x="976" y="43" width="3" height="1" fill="#dc4a1e"/>
<rect x="974" y="44" width="7" height="1" fill="#dc4a1e"/>
<rect x="975" y="45" width="5" height="1" fill="#dc4a1e"/>
<rect x="976" y="46" width="3" height="1" fill="#dc4a1e"/>
<rect x="977" y="47" width="1" height="1" fill="#dc4a1e"/>
<rect x="713" y="59" width="1" height="1" fill="#ffffff"/>
<rect x="712" y="60" width="3" height="1" fill="#ffffff"/>
<rect x="711" y="61" width="5" height="1" fill="#ffffff"/>
<rect x="709" y="62" width="9" height="1" fill="#ffffff"/>
<rect x="709" y="63" width="9" height="1" fill="#ffffff"/>
<rect x="709" y="64" width="9" height="1" fill="#ffffff"/>
<rect x="711" y="65" width="5" height="1" fill="#ffffff"/>
<rect x="711" y="66" width="5" height="1" fill="#ffffff"/>
<rect x="713" y="60" width="1" height="1" fill="#1464b4"/>
<rect x="712" y="61" width="3" height="1" fill="#1464b4"/>
<rect x="711" y="62" width="5" height="1" fill="#1464b4"/>
<rect x="710" y="63" width="7" height="1" fill="#1464b4"/>
<rect x="712" y="64" width="3" height="1" fill="#1464b4"/>
<rect x="712" y="65" width="3" height="1" fill="#1464b4"/>
<rect x="745" y="55" width="1" height="1" fill="#ffffff"/>
<rect x="744" y="56" width="3" height="1" fill="#ffffff"/>
<rect x="743" y="57" width="5" height="1" fill="#ffffff"/>
<rect x="741" y="58" width="9" height="1" fill="#ffffff"/>
<rect x="741" y="59" width="9" height="1" fill="#ffffff"/>
<rect x="741" y="60" width="9" height="1" fill="#ffffff"/>
<rect x="743" y="61" width="5" height="1" fill="#ffffff"/>
<rect x="743" y="62" width="5" height="1" fill="#ffffff"/>
<rect x="745" y="56" width="1" height="1" fill="#1464b4"/>
<rect x="744" y="57" width="3" height="1" fill="#1464b4"/>
<rect x="743" y="58" width="5" height="1" fill="#1464b4"/>
<rect x="742" y="59" width="7" height="1" fill="#1464b4"/>
<rect x="744" y="60" width="3" height="1" fill="#1464b4"/>
<rect x="744" y="61" width="3" height="1" fill="#1464b4"/>
<rect x="745" y="57" width="1" height="1" fill="#ffffff"/>
<rect x="744" y="58" width="3" height="1" fill="#ffffff"/>
<rect x="743" y="59" width="5" height="1" fill="#ffffff"/>
<rect x="741" y="60" width="9" height="1" fill="#ffffff"/>
<rect x="741" y="61" width="9" height="1" fill="#ffffff"/>
<rect x="741" y="62" width="9" height="1" fill="#ffffff"/>
<rect x="743" y="63" width="5" height="1" fill="#ffffff"/>
<rect x="743" y="64" width="5" height="1" fill="#ffffff"/>
<rect x="745" y="58" width="1" height="1" fill="#1464b4"/>
<rect x="744" y="59" width="3" height="1" fill="#1464b4"/>
<rect x="743" y="60" width="5" height="1" fill="#1464b4"/>
<rect x="742" y="61" width="7" height="1" fill="#1464b4"/>
<rect x="744" y="62" width="3" height="1" fill="#1464b4"/>
<rect x="744" y="63" width="3" height="1" fill="#1464b4"/>
<rect x="753" y="54" width="1" height="1" fill="#ffffff"/>
<rect x="752" y="55" width="3" height="1" fill="#ffffff"/>
<rect x="751" y="56" width="5" height="1" fill="#ffffff"/>
<rect x="749" y="57" width="9" height="1" fill="#ffffff"/>
<rect x="749" y="58" width="9" height="1" fill="#ffffff"/>
<rect x="749" y="59" width="9" height="1" fill="#ffffff"/>
<rect x="751" y="60" width="5" height="1" fill="#ffffff"/>
<rect x="751" y="61" width="5" height="1" fill="#ffffff"/>
<rect x="753" y="55" width="1" height="1" fill="#1464b4"/>
<rect x="752" y="56" width="3" height="1" fill="#1464b4"/>
<rect x="751" y="57" width="5" height="1" fill="#1464b4"/>
<rect x="750" y="58" width="7" height="1" fill="#1464b4"/>
<rect x="752" y="59" width="3" height="1" fill="#1464b4"/>
<rect x="752" y="60" width="3" height="1" fill="#1464b4"/>
<rect x="769" y="66" width="1" height="1" fill="#ffffff"/>
<rect x="768" y="67" width="3" height="1" fill="#ffffff"/>
<rect x="767" y="68" width="5" height="1" fill="#ffffff"/>
<rect x="765" y="69" width="9" height="1" fill="#ffffff"/>
<rect x="765" y="70" width="9" height="1" fill="#ffffff"/>
<rect x="765" y="71" width="9" height="1" fill="#ffffff"/>
<rect x="767" y="72" width="5" height="1" fill="#ffffff"/>
<rect x="767" y="73" width="5" height="1" fill="#ffffff"/>
<rect x="769" y="67" width="1" height="1" fill="#1464b4"/>
<rect x="768" y="68" width="3" height="1" fill="#1464b4"/>
<rect x="767" y="69" width="5" height="1" fill="#1464b4"/>
<rect x="766" y="70" width="7" height="1" fill="#1464b4"/>
<rect x="768" y="71" width="3" height="1" fill="#1464b4"/>
<rect x="768" y="72" width="3" height="1" fill="#1464b4"/>
<rect x="777" y="60" width="1" height="1" fill="#ffffff"/>
<rect x="776" y="61" width="3" height="1" fill="#ffffff"/>
<rect x="775" y="62" width="5" height="1" fill="#ffffff"/>
<rect x="773" y="63" width="9" height="1" fill="#ffffff"/>
<rect x="773" y="64" width="9" height="1" fill="#ffffff"/>
<rect x="773" y="65" width="9" height="1" fill="#ffffff"/>
<rect x="775" y="66" width="5" height="1" fill="#ffffff"/>
<rect x="775" y="67" width="5" height="1" fill="#ffffff"/>
<rect x="777" y="61" width="1" height="1" fill="#1464b4"/>
<rect x="776" y="62" width="3" height="1" fill="#1464b4"/>
<rect x="775" y="63" width="5" height="1" fill="#1464b4"/>
<rect x="774" y="64" width="7" height="1" fill="#1464b4"/>
<rect x="776" y="65" width="3" height="1" fill="#1464b4"/>
<rect x="776" y="66" width="3" height="1" fill="#1464b4"/>
<rect x="801" y="57" width="1" height="1" fill="#ffffff"/>
<rect x="800" y="58" width="3" height="1" fill="#ffffff"/>
<rect x="799" y="59" width="5" height="1" fill="#ffffff"/>
<rect x="797" y="60" width="9" height="1" fill="#ffffff"/>
<rect x="797" y="61" width="9" height="1" fill="#ffffff"/>
<rect x="797" y="62" width="9" height="1" fill="#ffffff"/>
<rect x="799" y="63" width="5" height="1" fill="#ffffff"/>
<rect x="799" y="64" width="5" height="1" fill="#ffffff"/>
<rect x="801" y="58" width="1" height="1" fill="#1464b4"/>
<rect x="800" y="59" width="3" height="1" fill="#1464b4"/>
<rect x="799" y="60" width="5" height="1" fill="#1464b4"/>
<rect x="798" y="61" width="7" height="1" fill="#1464b4"/>
<rect x="800" y="62" width="3" height="1" fill="#1464b4"/>
<rect x="800" y="63" width="3" height="1" fill="#1464b4"/>
<rect x="809" y="46" width="1" height="1" fill="#ffffff"/>
<rect x="808" y="47" width="3" height="1" fill="#ffffff"/>
<rect x="807" y="48" width="5" height="1" fill="#ffffff"/>
<rect x="805" y="49" width="9" height="1" fill="#ffffff"/>
<rect x="805" y="50" width="9" height="1" fill="#ffffff"/>
<rect x="805" y="51" width="9" height="1" fill="#ffffff"/>
<rect x="807" y="52" width="5" height="1" fill="#ffffff"/>
<rect x="807" y="53" width="5" height="1" fill="#ffffff"/>
<rect x="809" y="47" width="1" height="1" fill="#1464b4"/>
<rect x="808" y="48" width="3" height="1" fill="#1464b4"/>
<rect x="807" y="49" width="5" height="1" fill="#1464b4"/>
<rect x="806" y="50" width="7" height="1" fill="#1464b4"/>
<rect x="808" y="51" width="3" height="1" fill="#1464b4"/>
<rect x="808" y="52" width="3" height="1" fill="#1464b4"/>
<rect x="881" y="66" width="1" height="1" fill="#ffffff"/>
<rect x="880" y="67" width="3" height="1" fill="#ffffff"/>
<rect x="879" y="68" width="5" height="1" fill="#ffffff"/>
<rect x="877" y="69" width="9" height="1" fill="#ffffff"/>
<rect x="877" y="70" width="9" height="1" fill="#ffffff"/>
<rect x="877" y="71" width="9" height="1" fill="#ffffff"/>
<rect x="879" y="72" width="5" height="1" fill="#ffffff"/>
<rect x="879" y="73" width="5" height="1" fill="#ffffff"/>
<rect x="881" y="67" width="1" height="1" fill="#1464b4"/>
<rect x="880" y="68" width="3" height="1" fill="#1464b4"/>
<rect x="879" y="69" width="5" height="1" fill="#1464b4"/>
<rect x="878" y="70" width="7" height="1" fill="#1464b4"/>
<rect x="880" y="71" width="3" height="1" fill="#1464b4"/>
<rect x="880" y="72" width="3" height="1" fill="#1464b4"/>
<rect x="889" y="55" width="1" height="1" fill="#ffffff"/>
<rect x="888" y="56" width="3" height="1" fill="#ffffff"/>
<rect x="887" y="57" width="5" height="1" fill="#ffffff"/>
<rect x="885" y="58" width="9" height="1" fill="#ffffff"/>
<rect x="885" y="59" width="9" height="1" fill="#ffffff"/>
<rect x="885" y="60" width="9" height="1" fill="#ffffff"/>
<rect x="887" y="61" width="5" height="1" fill="#ffffff"/>
<rect x="887" y="62" width="5" height="1" fill="#ffffff"/>
<rect x="889" y="56" width="1" height="1" fill="#1464b4"/>
<rect x="888" y="57" width="3" height="1" fill="#1464b4"/>
<rect x="887" y="58" width="5" height="1" fill="#1464b4"/>
<rect x="886" y="59" width="7" height="1" fill="#1464b4"/>
<rect x="888" y="60" width="3" height="1" fill="#1464b4"/>
<rect x="888" y="61" width="3" height="1" fill="#1464b4"/>
<rect x="905" y="50" width="1" height="1" fill="#ffffff"/>
<rect x="904" y="51" width="3" height="1" fill="#ffffff"/>
<rect x="903" y="52" width="5" height="1" fill="#ffffff"/>
<rect x="901" y="53" width="9" height="1" fill="#ffffff"/>
<rect x="901" y="54" width="9" height="1" fill="#ffffff"/>
<rect x="901" y="55" width="9" height="1" fill="#ffffff"/>
<rect x="903" y="56" width="5" height="1" fill="#ffffff"/>
<rect x="903" y="57" width="5" height="1" fill="#ffffff"/>
<rect x="905" y="51" width="1" height="1" fill="#1464b4"/>
<rect x="904" y="52" width="3" height="1" fill="#1464b4"/>
<rect x="903" y="53" width="5" height="1" fill="#1464b4"/>
<rect x="902" y="54" width="7" height="1" fill="#1464b4"/>
<rect x="904" y="55" width="3" height="1" fill="#1464b4"/>
<rect x="904" y="56" width="3" height="1" fill="#1464b4"/>
<rect x="753" y="52" width="1" height="1" fill="#1464b4"/>
<rect x="814" y="50" width="1" height="1" fill="#1464b4"/>
<rect x="815" y="51" width="1" height="1" fill="#1464b4"/>
<line x1="862" y1="79" x2="865" y2="77" stroke="#dc4a1e" stroke-width="1"/>
<line x1="869" y1="74" x2="872" y2="72" stroke="#dc4a1e" stroke-width="1"/>
<line x1="875" y1="69" x2="878" y2="67" stroke="#dc4a1e" stroke-width="1"/>
<polyline fill="none" stroke="#1e90ff" stroke-width="1" points="2.5,310.6 9.5,309.1 17.5,315.3 25.5,321.1 33.5,324.9 41.5,326.1 49.5,315.0 57.5,309.5 65.5,312.3 73.5,316.1 81.5,318.6 89.5,315.3 97.5,319.1 105.5,320.6 113.5,323.6 121.5,315.3 129.5,309.5 137.5,311.5 145.5,308.1 153.5,315.0 161.5,317.4 169.5,321.1 177.5,317.8 185.5,320.3 193.5,328.3 201.5,317.8 209.5,318.3 217.5,315.0 225.5,311.1 233.5,301.5 241.5,306.5 249.5,294.5 257.5,292.8 265.5,288.6 273.5,285.3 281.5,286.1 289.5,289.1 297.5,291.5 305.5,290.6 313.5,290.6 321.5,287.0 329.5,283.3 337.5,283.3 345.5,293.6 353.5,294.4 361.5,294.5 369.5,297.5 377.5,294.5 385.5,294.0 393.5,289.1 401.5,287.8 409.5,284.1 417.5,282.3 425.5,282.3 433.5,280.8 441.5,277.3 449.5,275.0 457.5,285.3 465.5,285.3 473.5,290.3 481.5,285.8 489.5,281.5 497.5,274.2 505.5,280.3 513.5,281.5 521.5,276.7 529.5,270.3 537.5,281.5 545.5,281.5 553.5,286.1 561.5,288.3 569.5,287.5 577.5,293.3 585.5,293.3 593.5,298.1 601.5,301.6 609.5,306.1 617.5,307.3 625.5,305.3 633.5,308.3 641.5,307.0 649.5,309.5 657.5,295.3 665.5,301.5 673.5,292.0 681.5,286.6 689.5,283.1 697.5,290.3 705.5,286.5 713.5,285.3 721.5,284.1 729.5,285.3 737.5,284.1 745.5,287.3 753.5,286.5 761.5,291.5 769.5,290.3 777.5,292.3 785.5,288.3 793.5,290.3 801.5,280.0 809.5,288.3 817.5,294.5 825.5,294.5 833.5,292.7 841.5,302.0 849.5,305.6 857.5,298.3 865.5,295.6 873.5,296.5 881.5,288.1 889.5,286.5 897.5,286.5 905.5,288.6 913.5,290.6 921.5,292.5 929.5,292.5 937.5,283.6 945.5,276.5 953.5,281.5 961.5,284.5 969.5,288.3 977.5,290.6 985.5,282.3 993.5,273.3 1001.5,273.3"/>
<rect x="2" y="271" width="1015" height="1" fill="#000080"/>
<rect x="2" y="294" width="1015" height="1" fill="#000080"/>
<rect x="2" y="317" width="1015" height="1" fill="#000080"/>
<rect x="9" y="394" width="1" height="21" fill="#0000ff"/>
<rect x="17" y="394" width="1" height="25" fill="#0000ff"/>
<rect x="25" y="394" width="1" height="30" fill="#0000ff"/>
<rect x="33" y="394" width="1" height="37" fill="#0000ff"/>
<rect x="41" y="394" width="1" height="43" fill="#0000ff"/>
<rect x="49" y="394" width="1" height="44" fill="#0000ff"/>
<rect x="57" y="394" width="1" height="43" fill="#0000ff"/>
<rect x="65" y="394" width="1" height="43" fill="#0000ff"/>
<rect x="73" y="394" width="1" height="45" fill="#0000ff"/>
<rect x="81" y="394" width="1" height="47" fill="#0000ff"/>
<rect x="89" y="394" width="1" height="48" fill="#0000ff"/>
<rect x="97" y="394" width="1" height="50" fill="#0000ff"/>
<rect x="105" y="394" width="1" height="52" fill="#0000ff"/>
<rect x="113" y="394" width="1" height="54" fill="#0000ff"/>
<rect x="121" y="394" width="1" height="54" fill="#0000ff"/>
<rect x="129" y="394" width="1" height="52" fill="#0000ff"/>
<rect x="137" y="394" width="1" height="49" fill="#0000ff"/>
<rect x="145" y="394" width="1" height="48" fill="#0000ff"/>
<rect x="153" y="394" width="1" height="49" fill="#0000ff"/>
<rect x="161" y="394" width="1" height="51" fill="#0000ff"/>
<rect x="169" y="394" width="1" height="54" fill="#0000ff"/>
<rect x="177" y="394" width="1" height="55" fill="#0000ff"/>
<rect x="185" y="394" width="1" height="57" fill="#0000ff"/>
<rect x="193" y="394" width="1" height="65" fill="#0000ff"/>
<rect x="201" y="394" width="1" height="67" fill="#0000ff"/>
<rect x="209" y="394" width="1" height="69" fill="#0000ff"/>
<rect x="217" y="394" width="1" height="68" fill="#0000ff"/>
<rect x="225" y="394" width="1" height="65" fill="#0000ff"/>
<rect x="233" y="394" width="1" height="59" fill="#0000ff"/>
<rect x="241" y="394" width="1" height="56" fill="#0000ff"/>
<rect x="249" y="394" width="1" height="47" fill="#0000ff"/>
<rect x="257" y="394" width="1" height="39" fill="#0000ff"/>
<rect x="265" y="394" width="1" height="30" fill="#0000ff"/>
<rect x="273" y="394" width="1" height="20" fill="#0000ff"/>
<rect x="281" y="394" width="1" height="12" fill="#0000ff"/>
<rect x="289" y="394" width="1" height="8" fill="#0000ff"/>
<rect x="297" y="394" width="1" height="5" fill="#0000ff"/>
<rect x="305" y="394" width="1" height="3" fill="#0000ff"/>
<rect x="321" y="390" width="1" height="3" fill="#0000ff"/>
<rect x="329" y="385" width="1" height="8" fill="#0000ff"/>
<rect x="337" y="382" width="1" height="11" fill="#0000ff"/>
<rect x="345" y="384" width="1" height="9" fill="#0000ff"/>
<rect x="353" y="385" width="1" height="8" fill="#0000ff"/>
<rect x="361" y="386" width="1" height="7" fill="#0000ff"/>
<rect x="369" y="389" width="1" height="4" fill="#0000ff"/>
<rect x="377" y="389" width="1" height="4" fill="#0000ff"/>
<rect x="385" y="390" width="1" height="3" fill="#0000ff"/>
<rect x="393" y="389" width="1" height="4" fill="#0000ff"/>
<rect x="401" y="388" width="1" height="5" fill="#0000ff"/>
<rect x="409" y="385" width="1" height="8" fill="#0000ff"/>
<rect x="417" y="382" width="1" height="11" fill="#0000ff"/>
<rect x="425" y="380" width="1" height="13" fill="#0000ff"/>
<rect x="433" y="378" width="1" height="15" fill="#0000ff"/>
<rect x="441" y="375" width="1" height="18" fill="#0000ff"/>
<rect x="449" y="373" width="1" height="20" fill="#0000ff"/>
<rect x="457" y="373" width="1" height="20" fill="#0000ff"/>
<rect x="465" y="374" width="1" height="19" fill="#0000ff"/>
<rect x="473" y="375" width="1" height="18" fill="#0000ff"/>
<rect x="481" y="376" width="1" height="17" fill="#0000ff"/>
<rect x="489" y="375" width="1" height="18" fill="#0000ff"/>
<rect x="497" y="371" width="1" height="22" fill="#0000ff"/>
<rect x="505" y="370" width="1" height="23" fill="#0000ff"/>
<rect x="513" y="370" width="1" height="23" fill="#0000ff"/>
<rect x="521" y="368" width="1" height="25" fill="#0000ff"/>
<rect x="529" y="363" width="1" height="30" fill="#0000ff"/>
<rect x="537" y="363" width="1" height="30" fill="#0000ff"/>
<rect x="545" y="364" width="1" height="29" fill="#0000ff"/>
<rect x="553" y="366" width="1" height="27" fill="#0000ff"/>
<rect x="561" y="368" width="1" height="25" fill="#0000ff"/>
<rect x="569" y="370" width="1" height="23" fill="#0000ff"/>
<rect x="577" y="373" width="1" height="20" fill="#0000ff"/>
<rect x="585" y="376" width="1" height="17" fill="#0000ff"/>
<rect x="593" y="380" width="1" height="13" fill="#0000ff"/>
<rect x="601" y="384" width="1" height="9" fill="#0000ff"/>
<rect x="609" y="389" width="1" height="4" fill="#0000ff"/>
<rect x="617" y="394" width="1" height="2" fill="#0000ff"/>
<rect x="625" y="394" width="1" height="4" fill="#0000ff"/>
<rect x="633" y="394" width="1" height="8" fill="#0000ff"/>
<rect x="641" y="394" width="1" height="10" fill="#0000ff"/>
<rect x="649" y="394" width="1" height="12" fill="#0000ff"/>
<rect x="657" y="394" width="1" height="11" fill="#0000ff"/>
<rect x="665" y="394" width="1" height="12" fill="#0000ff"/>
<rect x="673" y="394" width="1" height="9" fill="#0000ff"/>
<rect x="681" y="394" width="1" height="5" fill="#0000ff"/>
<rect x="689" y="394" width="1" height="2" fill="#0000ff"/>
<rect x="705" y="390" width="1" height="3" fill="#0000ff"/>
<rect x="713" y="388" width="1" height="5" fill="#0000ff"/>
<rect x="721" y="385" width="1" height="8" fill="#0000ff"/>
<rect x="729" y="384" width="1" height="9" fill="#0000ff"/>
<rect x="737" y="383" width="1" height="10" fill="#0000ff"/>
<rect x="745" y="382" width="1" height="11" fill="#0000ff"/>
<rect x="753" y="382" width="1" height="11" fill="#0000ff"/>
<rect x="761" y="383" width="1" height="10" fill="#0000ff"/>
<rect x="769" y="384" width="1" height="9" fill="#0000ff"/>
<rect x="777" y="384" width="1" height="9" fill="#0000ff"/>
<rect x="785" y="385" width="1" height="8" fill="#0000ff"/>
<rect x="793" y="384" width="1" height="9" fill="#0000ff"/>
<rect x="801" y="383" width="1" height="10" fill="#0000ff"/>
<rect x="809" y="383" width="1" height="10" fill="#0000ff"/>
<rect x="817" y="384" width="1" height="9" fill="#0000ff"/>
<rect x="825" y="386" width="1" height="7" fill="#0000ff"/>
<rect x="833" y="388" width="1" height="5" fill="#0000ff"/>
<rect x="841" y="390" width="1" height="3" fill="#0000ff"/>
<rect x="857" y="394" width="1" height="2" fill="#0000ff"/>
<rect x="865" y="394" width="1" height="2" fill="#0000ff"/>
<rect x="873" y="394" width="1" height="2" fill="#0000ff"/>
<rect x="889" y="391" width="1" height="2" fill="#0000ff"/>
<rect x="897" y="390" width="1" height="3" fill="#0000ff"/>
<rect x="905" y="389" width="1" height="4" fill="#0000ff"/>
<rect x="913" y="389" width="1" height="4" fill="#0000ff"/>
<rect x="921" y="389" width="1" height="4" fill="#0000ff"/>
<rect x="929" y="390" width="1" height="3" fill="#0000ff"/>
<rect x="937" y="388" width="1" height="5" fill="#0000ff"/>
<rect x="945" y="384" width="1" height="9" fill="#0000ff"/>
<rect x="953" y="383" width="1" height="10" fill="#0000ff"/>
<rect x="961" y="382" width="1" height="11" fill="#0000ff"/>
<rect x="969" y="383" width="1" height="10" fill="#0000ff"/>
<rect x="977" y="384" width="1" height="9" fill="#0000ff"/>
<rect x="985" y="382" width="1" height="11" fill="#0000ff"/>
<rect x="993" y="378" width="1" height="15" fill="#0000ff"/>
<rect x="1001" y="375" width="1" height="18" fill="#0000ff"/>
<polyline fill="none" stroke="#ffa500" stroke-width="1" points="2.5,406.2 9.5,408.0 17.5,410.0 25.5,412.0 33.5,415.4 41.5,418.7 49.5,422.0 57.5,425.0 65.5,428.0 73.5,430.7 81.5,433.7 89.5,435.4 97.5,437.4 105.5,439.2 113.5,440.4 121.5,441.7 129.5,442.4 137.5,443.4 145.5,443.4 153.5,444.4 161.5,444.4 169.5,444.4 177.5,445.4 185.5,445.4 193.5,446.9 201.5,448.7 209.5,450.7 217.5,452.4 225.5,454.1 233.5,455.1 241.5,455.1 249.5,454.1 257.5,451.6 265.5,447.9 273.5,443.7 281.5,436.9 289.5,429.9 297.5,423.2 305.5,416.7 313.5,411.2 321.5,406.2 329.5,400.0 337.5,396.7 345.5,393.7 353.5,390.7 361.5,389.5 369.5,388.5 377.5,387.5 385.5,387.5 393.5,386.5 401.5,387.5 409.5,387.5 417.5,387.5 425.5,386.5 433.5,385.2 441.5,384.2 449.5,382.0 457.5,380.5 465.5,379.2 473.5,377.5 481.5,376.2 489.5,375.5 497.5,374.5 505.5,374.2 513.5,373.2 521.5,372.2 529.5,371.2 537.5,370.0 545.5,369.2 553.5,368.2 561.5,367.5 569.5,367.5 577.5,367.5 585.5,368.2 593.5,369.5 601.5,372.5 609.5,375.0 617.5,378.2 625.5,381.7 633.5,385.7 641.5,389.2 649.5,392.5 657.5,395.0 665.5,398.0 673.5,400.4 681.5,401.4 689.5,401.4 697.5,401.4 705.5,399.2 713.5,398.0 721.5,395.5 729.5,393.2 737.5,391.2 745.5,389.2 753.5,387.5 761.5,385.7 769.5,384.2 777.5,384.2 785.5,384.2 793.5,384.2 801.5,384.2 809.5,384.2 817.5,384.2 825.5,384.2 833.5,385.2 841.5,386.2 849.5,386.2 857.5,388.2 865.5,389.2 873.5,390.2 881.5,391.2 889.5,392.2 897.5,392.2 905.5,392.2 913.5,392.2 921.5,392.2 929.5,391.2 937.5,390.2 945.5,389.2 953.5,388.2 961.5,387.2 969.5,386.2 977.5,386.2 985.5,385.2 993.5,384.0 1001.5,382.0"/>

<g shape-rendering="geometricPrecision">
<!-- icon 1 -->
<path d="M13.5 9.5H7.7a1.2 1.2 0 0 0-1.2 1.2v7.6a1.2 1.2 0 0 0 1.2 1.2h5.8z" fill="#ffffff" stroke="#d9413a" stroke-width="1.1"/>
<path d="M13.5 9.5h5.8a1.2 1.2 0 0 1 1.2 1.2v7.6a1.2 1.2 0 0 1-1.2 1.2h-5.8z" fill="#cfe8fb" stroke="#1464b4" stroke-width="1.1"/>
<rect x="13" y="10.1" width="1" height="8.8" fill="#e9f0f8"/>
<g shape-rendering="crispEdges">
<rect x="8" y="11" width="5" height="1" fill="#d9413a"/><rect x="8" y="14" width="5" height="1" fill="#d9413a"/><rect x="8" y="17" width="5" height="1" fill="#d9413a"/>
<rect x="14" y="11" width="5" height="1" fill="#1464b4"/><rect x="14" y="14" width="5" height="1" fill="#1464b4"/><rect x="14" y="17" width="5" height="1" fill="#1464b4"/>
</g>
<!-- icon 2 -->
<path d="M28.5 9.5H30.5V13.5H33.5V18.5a1 1 0 0 1-1 1H28.5a1 1 0 0 1-1-1V10.5a1 1 0 0 1 1-1z" fill="#fddad2" stroke="#d9413a" stroke-width="1.1"/>
<path d="M40.5 9.5H38.5V13.5H35.5V18.5a1 1 0 0 0 1 1H40.5a1 1 0 0 0 1-1V10.5a1 1 0 0 0-1-1z" fill="#c5e3f9" stroke="#1464b4" stroke-width="1.1"/>
<rect x="32.5" y="9.5" width="4" height="2" rx="0.5" fill="#ffffff" stroke="#a8a8a8" stroke-width="1"/>
</g>

</svg>
<div id="topb"></div>
<div class="pl" style="top:12px;background:#708090;z-index:1"><span>1.32022</span></div><div class="pl" style="top:27px;background:#800080;z-index:2"><span>1.30060</span></div><div class="pl" style="top:3px;background:#008000;z-index:3"><span>1.33180</span></div><div class="pl" style="top:18px;background:#ffa500;z-index:4"><span>1.31180</span></div><div class="pl" style="top:42px;background:#800080;z-index:5"><span>1.28050</span></div><div class="pl" style="top:50px;background:#800080;z-index:6"><span>1.26930</span></div>
</body></html>
